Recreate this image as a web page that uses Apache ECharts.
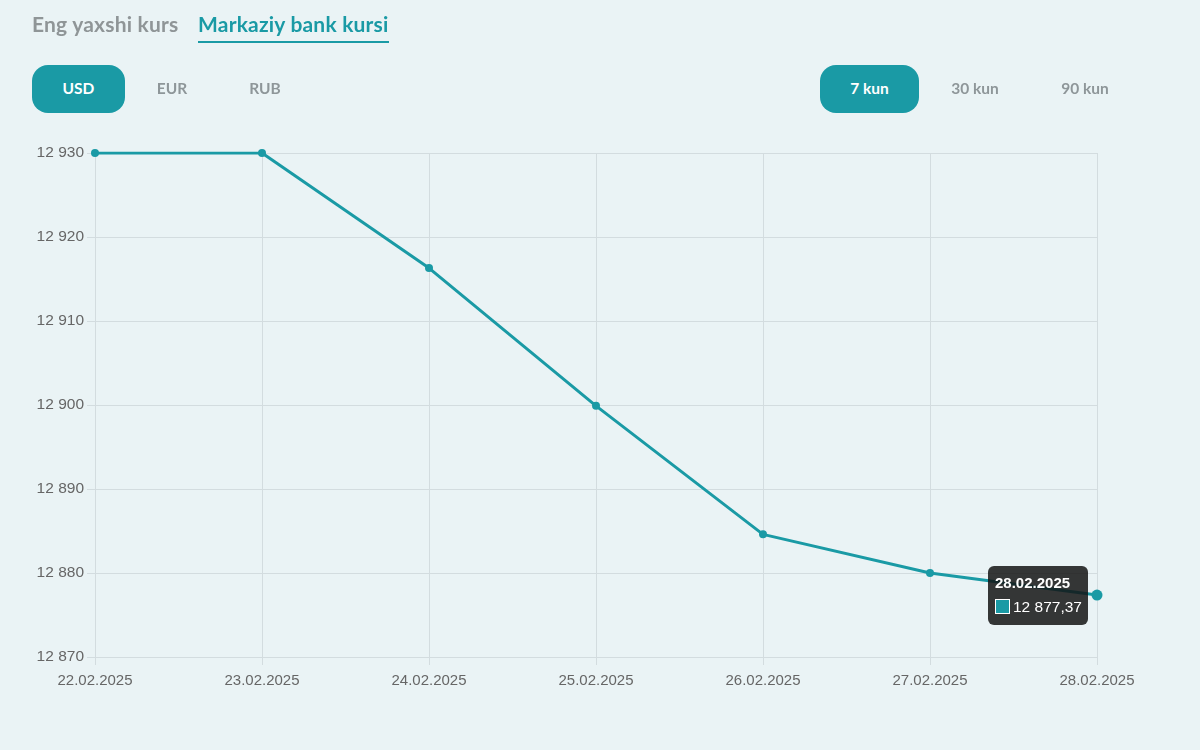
<!DOCTYPE html>
<html>
<head>
<meta charset="utf-8">
<script src="https://cdn.jsdelivr.net/npm/echarts@6/dist/echarts.min.js"></script>
<style>
  html,body{margin:0;padding:0;background:#EAF3F5;}
  #wrap{position:relative;width:1200px;height:750px;background:#EAF3F5;overflow:hidden;}
  #chart{position:absolute;left:0;top:0;width:1200px;height:750px;}
  .tab{position:absolute;top:11px;font-family:Lato,"Noto Sans",sans-serif;font-weight:700;font-size:21px;letter-spacing:0.2px;}
  .btn{position:absolute;top:65px;height:48px;line-height:47px;text-align:center;font-family:Lato,"Noto Sans",sans-serif;font-weight:700;font-size:15.5px;color:#8e9699;border-radius:16px;}
  .btn.on{background:#1A9AA5;color:#fff;}
</style>
</head>
<body>
<div id="wrap">
  <div id="chart"></div>
  <div class="tab" style="left:32px;color:#8f9597;">Eng yaxshi kurs</div>
  <div class="tab" style="left:198px;color:#1A9AA5;padding-bottom:5px;border-bottom:2px solid #1A9AA5;">Markaziy bank kursi</div>
  <div class="btn on" style="left:32px;width:93px;">USD</div>
  <div class="btn" style="left:132px;width:80px;">EUR</div>
  <div class="btn" style="left:225px;width:80px;">RUB</div>
  <div class="btn on" style="left:820px;width:99px;">7 kun</div>
  <div class="btn" style="left:935px;width:80px;">30 kun</div>
  <div class="btn" style="left:1045px;width:80px;">90 kun</div>
</div>
<script>
const dates = ['22.02.2025','23.02.2025','24.02.2025','25.02.2025','26.02.2025','27.02.2025','28.02.2025'];
const rates = [12930, 12930, 12916.3, 12899.9, 12884.6, 12880.0, 12877.37];
const yTicks = [12870, 12880, 12890, 12900, 12910, 12920, 12930];

function fmtInt(v){ return String(Math.round(v)).replace(/\B(?=(\d{3})+(?!\d))/g,' '); }
function fmtDec(v){
  const parts = v.toFixed(2).split('.');
  return parts[0].replace(/\B(?=(\d{3})+(?!\d))/g,' ') + ',' + parts[1];
}

const lastIdx = rates.length - 1;
const seriesData = rates.map(function(v,i){ return i===lastIdx ? {value:v, symbolSize:11} : v; });

const chart = echarts.init(document.getElementById('chart'), null, {renderer:'canvas'});
const gridColor = '#d3dcdf';
chart.setOption({
  backgroundColor:'transparent',
  animation:false,
  grid:{left:95, right:103, top:153, bottom:93, containLabel:false},
  tooltip:{
    trigger:'item',
    alwaysShowContent:true,
    backgroundColor:'rgba(20,20,20,0.85)',
    borderWidth:0,
    padding:[7,6,9,7],
    extraCssText:'border-radius:6px;box-shadow:none;',
    position:function(point, params, dom, rect, size){
      return [point[0]-size.contentSize[0]-9, point[1]-29];
    },
    formatter:function(p){
      return '<div style="font-family:Liberation Sans,Arial,sans-serif;color:#fff;line-height:19px;">'+
        '<div style="font-weight:bold;font-size:15px;margin-bottom:5px;">'+p.name+'</div>'+
        '<div style="font-size:15.5px;"><span style="display:inline-block;width:13px;height:13px;background:#1A9AA5;border:1px solid #fff;vertical-align:-2px;margin-right:3px;"></span>'+fmtDec(p.value)+'</div></div>';
    }
  },
  xAxis:{
    type:'category',
    data:dates,
    boundaryGap:false,
    axisLine:{show:true,lineStyle:{color:gridColor,width:1}},
    axisTick:{show:true,length:8,lineStyle:{color:gridColor}},
    axisLabel:{color:'#666',fontSize:15,fontFamily:'Liberation Sans, Arial, sans-serif',margin:16},
    splitLine:{show:true,lineStyle:{color:gridColor,width:1}}
  },
  yAxis:{
    type:'value',
    min:yTicks[0], max:yTicks[yTicks.length-1], interval:10,
    axisLine:{show:false},
    axisTick:{show:true,length:8,lineStyle:{color:gridColor}},
    axisLabel:{color:'#666',fontSize:15.5,fontFamily:'Liberation Sans, Arial, sans-serif',margin:11,formatter:fmtInt},
    splitLine:{show:true,lineStyle:{color:gridColor,width:1}}
  },
  series:[{
    type:'line',
    data:seriesData,
    symbol:'circle',
    symbolSize:8,
    lineStyle:{color:'#1A9AA5',width:3},
    itemStyle:{color:'#1A9AA5'},
    emphasis:{scale:false,itemStyle:{color:'#1A9AA5'}},
    z:3
  }]
});
chart.dispatchAction({type:'showTip', seriesIndex:0, dataIndex:lastIdx});
</script>
</body>
</html>
